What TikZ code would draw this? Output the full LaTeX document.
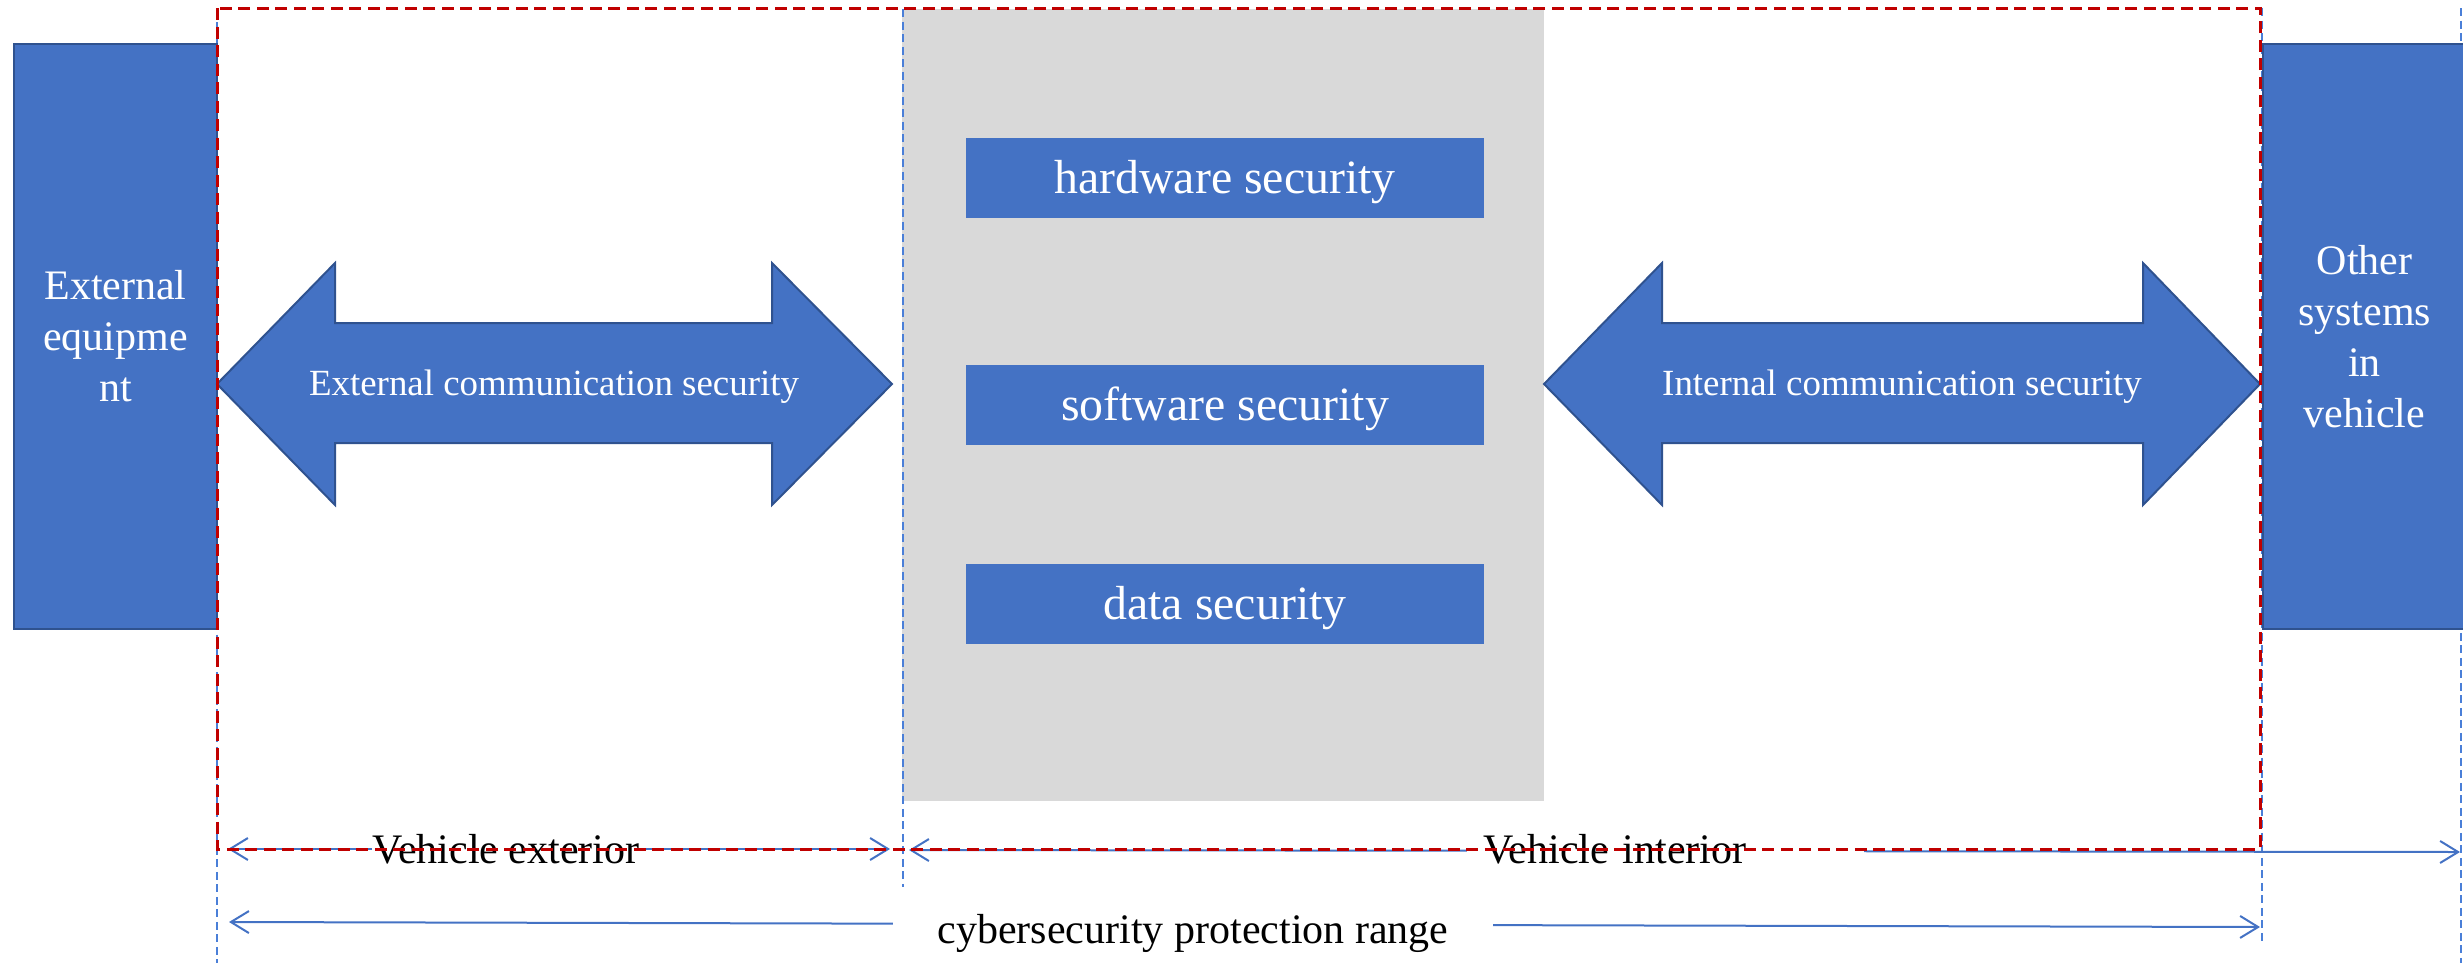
\documentclass[tikz,border=0pt]{standalone}
\usepackage{fontspec}
\setmainfont{Liberation Serif}
\usetikzlibrary{arrows.meta}
\definecolor{boxblue}{HTML}{4472C4}
\definecolor{edgeblue}{HTML}{2F528F}
\definecolor{dashblue}{HTML}{4A7FD8}
\definecolor{redline}{HTML}{C00000}
\definecolor{graybg}{HTML}{D9D9D9}
\begin{document}
\begin{tikzpicture}[x=0.1mm,y=-0.1mm,
 sidebox/.style={fill=boxblue, draw=edgeblue, line width=0.2mm, minimum width=20.3mm, minimum height=58.5mm, text=white, align=center, font=\fontsize{11.95pt}{14.5pt}\selectfont, inner sep=0pt},
 secbox/.style={fill=boxblue, minimum width=51.8mm, minimum height=8mm, text=white, font=\fontsize{13.6pt}{16pt}\selectfont, inner sep=0pt, text height=3.1mm, text depth=0mm},
 blockarrow/.style={fill=boxblue, draw=edgeblue, line width=0.2mm},
 arrowtext/.style={text=white, font=\fontsize{10.5pt}{12pt}\selectfont, inner sep=0pt, anchor=base},
 guide/.style={draw=dashblue, line width=0.15mm, dash pattern=on 0.8mm off 0.45mm},
 rangearrow/.style={draw=boxblue, line width=0.2mm, {Straight Barb[length=1.8mm,width=2.2mm]}-{Straight Barb[length=1.8mm,width=2.2mm]}},
 rangelabel/.style={fill=white, inner ysep=0.5mm, inner xsep=0pt, font=\fontsize{11.95pt}{14.5pt}\selectfont},
 zone/.style={draw=redline, line width=0.3mm, dash pattern=on 1.2mm off 0.65mm}
]
\useasboundingbox (0,0) rectangle (2463,963);

% grey core area
\node[fill=graybg, minimum width=64.2mm, minimum height=79.2mm, inner sep=0pt] (core) at (1223,405) {};

% guide lines
\coordinate (g1t) at (217,22);   \coordinate (g1b) at (217,963);
\coordinate (g2t) at (903,9);    \coordinate (g2b) at (903,887);
\coordinate (g3t) at (2262,8);   \coordinate (g3b) at (2262,944);
\coordinate (g4t) at (2461,8);   \coordinate (g4b) at (2461,963);
\draw[guide] (g1t) -- (g1b);
\draw[guide] (g2t) -- (g2b);
\draw[guide] (g3t) -- (g3b);
\draw[guide] (g4t) -- (g4b);

% side boxes
\node[sidebox] (ext) at (115.5,336.5) {External\\equipme\\nt};
\node[sidebox] (other) at (2364.5,336.5) {Other\\systems\\in\\vehicle};

% security boxes
\node[secbox] (hw) at (1225,177.5) {hardware security};
\node[secbox] (sw) at (1225,404.5) {software security};
\node[secbox] (data) at (1225,604) {data security};

% block double arrows
\path[blockarrow] (217,384) -- (335,263) -- (335,323) -- (772,323) -- (772,263) -- (892,384)
  -- (772,505) -- (772,443) -- (335,443) -- (335,505) -- cycle;
\node[arrowtext] (extcomm) at (554,395) {External communication security};
\path[blockarrow] (1544,384) -- (1662,263) -- (1662,323) -- (2143,323) -- (2143,263) -- (2260,384)
  -- (2143,505) -- (2143,443) -- (1662,443) -- (1662,505) -- cycle;
\node[arrowtext] (intcomm) at (1902,395) {Internal communication security};

% range arrows
\coordinate (ve1) at (228,849);  \coordinate (ve2) at (890,849);
\coordinate (vi1) at (909,850);  \coordinate (vi2) at (2460,852);
\coordinate (cr1) at (229,922);  \coordinate (cr2) at (2260,927);
\draw[rangearrow] (ve1) -- (ve2);
\draw[rangearrow] (vi1) -- (vi2);
\draw[rangearrow] (cr1) -- (cr2);

% range labels
\node[rangelabel] (extlab) at (506,849) {Vehicle exterior};
\node[rangelabel, text width=36.5mm, inner xsep=1.6mm, align=left] (intlab) at (1665.5,849) {Vehicle interior};
\node[rangelabel, inner xsep=4.5mm] (cyblab) at (1193,933) {cybersecurity protection range};

% protection zone
\draw[zone] (217,8) rectangle (2260,849);
\end{tikzpicture}
\end{document}
